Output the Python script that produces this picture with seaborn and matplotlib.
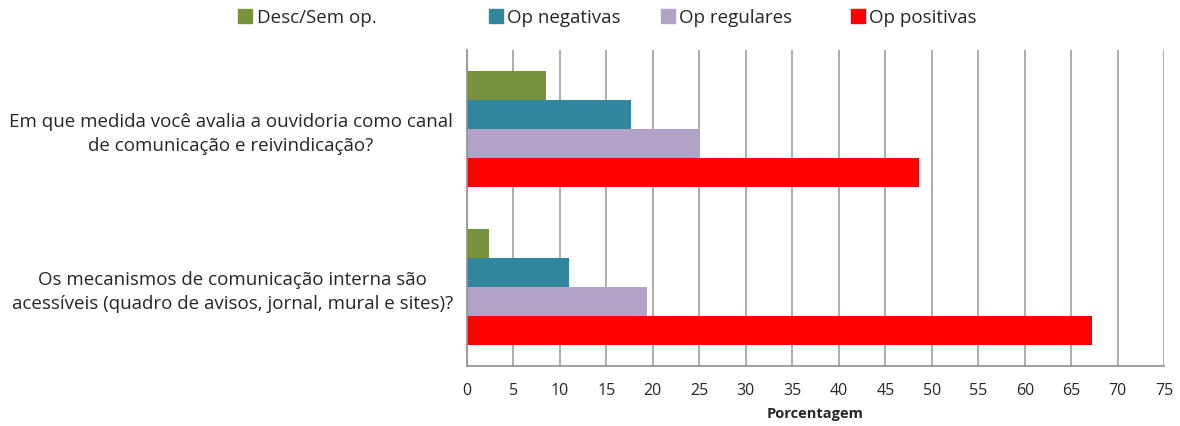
import matplotlib
matplotlib.use('Agg')
import matplotlib.pyplot as plt
from matplotlib.lines import Line2D
import seaborn as sns
import pandas as pd

questions = ['Em que medida você avalia a ouvidoria como canal\nde comunicação e reivindicação?',
             'Os mecanismos de comunicação interna são\nacessíveis (quadro de avisos, jornal, mural e sites)?']
series = ['Desc/Sem op.', 'Op negativas', 'Op regulares', 'Op positivas']
desc = [8.5, 2.4]
neg = [17.7, 11.0]
reg = [25.1, 19.4]
pos = [48.6, 67.2]
colors = ['#77933C', '#31859C', '#B3A2C7', '#FF0000']

rows = []
for s, vals in zip(series, [desc, neg, reg, pos]):
    for q, v in zip(questions, vals):
        rows.append({'Pergunta': q, 'Serie': s, 'Valor': v})
df = pd.DataFrame(rows)

sns.set_style('white')
plt.rcParams['font.family'] = ['Open Sans', 'DejaVu Sans']

fig, ax = plt.subplots(figsize=(11.8, 4.26), dpi=100)
fig.subplots_adjust(left=0.3955, right=0.9867, top=0.8826, bottom=0.141)

sns.barplot(data=df, x='Valor', y='Pergunta', hue='Serie', hue_order=series,
            palette=colors, orient='h', width=0.73, ax=ax, saturation=1,
            linewidth=0, legend=False)

ax.set_xlim(0, 75)
ax.set_xticks(range(0, 76, 5))
ax.set_ylim(1.5, -0.5)
ax.xaxis.grid(True, color='#A0A0A0', linewidth=1.2)
ax.set_axisbelow(True)
for s in ['top', 'right']:
    ax.spines[s].set_visible(False)
for s in ['left', 'bottom']:
    ax.spines[s].set_color('#909090')
    ax.spines[s].set_linewidth(1.2)

# category separators on the y axis
ax.set_yticks([-0.5, 0.5, 1.5], minor=True)
ax.tick_params(axis='y', which='minor', length=6, color='#909090', width=1.2, direction='out')
ax.tick_params(axis='y', which='major', length=0, pad=10, labelsize=13.5)
for lbl in ax.get_yticklabels():
    lbl.set_multialignment('center')
    lbl.set_linespacing(1.4)
ax.tick_params(axis='x', length=6, color='#909090', width=1.2, direction='out', labelsize=11.5, pad=6)

ax.set_xlabel('Porcentagem', fontsize=10.5, fontweight='bold', labelpad=6)
ax.set_ylabel('')

# legend entries placed like the original (uneven slots)
legend_x = [0.200, 0.412, 0.558, 0.719]
for x, c, s in zip(legend_x, colors, series):
    h = Line2D([0], [0], marker='s', linestyle='', color=c, markersize=10)
    fig.legend([h], [s], loc='center left', bbox_to_anchor=(x, 0.958), frameon=False,
               fontsize=13.5, handletextpad=0.1, handlelength=1.0,
               borderpad=0, borderaxespad=0)

fig.savefig('out.png', dpi=100)
